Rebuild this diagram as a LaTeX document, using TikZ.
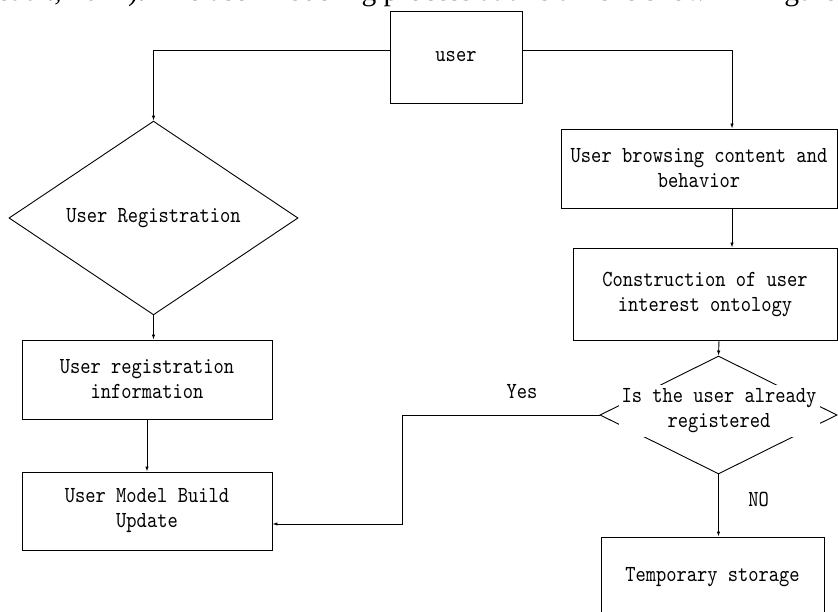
\documentclass[tikz,border=0pt]{standalone}
\usepackage{fontspec}
\setmainfont{Liberation Serif}
\newfontfamily\flowfont{lmmono10-regular.otf}[FakeStretch=0.85]
\usetikzlibrary{shapes.geometric, arrows.meta}

\begin{document}
\begin{tikzpicture}[x=1pt, y=-1pt, >={Latex[length=5pt, width=3.5pt]},
    every node/.style={font=\flowfont\fontsize{23}{25}\selectfont, align=center},
    proc/.style={draw, line width=0.9pt, rectangle, inner sep=0pt},
    decide/.style={draw, line width=0.9pt, diamond, inner sep=0pt},
    flow/.style={line width=0.9pt, ->}]

\useasboundingbox (0,0) rectangle (838,612);
\clip (0,0) rectangle (838,612);

%% text of the page above the figure
\node [anchor=base east, font=\rmfamily\fontsize{29.5}{34}\selectfont, inner sep=0pt] (pagetext) at (837,1)
  {et al., 2021). The user modeling process at this time is shown in Figure};

%% boxes
\node [proc, minimum width=132, minimum height=92] (user) at (456,57) {user};
\node [proc, minimum width=276, minimum height=79] (browse) at (699,168.5)
  {User browsing content and\\behavior};
\node [proc, minimum width=264, minimum height=92] (build) at (705,294)
  {Construction of user\\interest ontology};
\node [decide, minimum width=237, minimum height=118] (regq) at (718.5,415) {};
\node [fill=white, inner sep=0pt, minimum width=201, minimum height=52] (regqtext) at (719,411)
  {Is the user already\\registered};
\node [proc, minimum width=223, minimum height=80] (temp) at (712.5,577) {Temporary storage};

\node [decide, minimum width=289, minimum height=118] (regd) at (153.5,218) {User Registration};
\node [proc, minimum width=250, minimum height=79] (reginfo) at (147,379.5)
  {User registration\\information};
\node [proc, minimum width=250, minimum height=78] (model) at (147,511)
  {User Model Build\\Update};

%% connectors
\draw [flow] ([yshift=7pt]user.west) -| (regd.north);
\draw [flow] ([yshift=7pt]user.east) -| ([xshift=33pt]browse.north);
\draw [flow] ([xshift=33pt]browse.south) -- ([xshift=27pt]build.north);
\draw [flow] ([xshift=14pt]build.south) -- (regq.north);
\draw [flow] (regq.south) -- (regq.south |- temp.north)
    node [pos=0.4, right=26pt] (no) {NO};
\draw [flow] (regq.west) -- ++(-197,0) |- ([yshift=-13pt]model.east);
\node (yes) at (522,392) {Yes};

\draw [flow] (regd.south) -- (reginfo.north -| regd.south);
\draw [flow] (reginfo.south) -- (model.north);

\end{tikzpicture}
\end{document}
